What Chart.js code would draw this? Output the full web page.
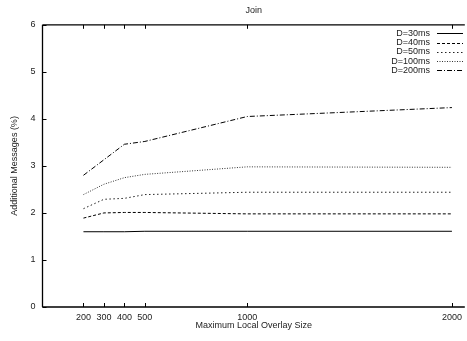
<!DOCTYPE html>
<html>
<head>
<meta charset="utf-8">
<script src="https://cdn.jsdelivr.net/npm/chart.js@4"></script>
<style>
html,body{margin:0;padding:0;background:#fff;overflow:hidden;}
canvas{display:block;}
</style>
</head>
<body>
<canvas id="c" width="467" height="341" style="width:467px;height:341px"></canvas>
<script>
const sizes = [200, 300, 400, 500, 1000, 2000];
const xTicks = [200, 300, 400, 500, 1000, 2000];
const yTicks = [0, 1, 2, 3, 4, 5, 6];
const seriesNames = ['D=30ms', 'D=40ms', 'D=50ms', 'D=100ms', 'D=200ms'];
const d30  = [1.60, 1.60, 1.60, 1.61, 1.61, 1.61];
const d40  = [1.89, 2.00, 2.01, 2.01, 1.98, 1.98];
const d50  = [2.09, 2.29, 2.31, 2.39, 2.44, 2.44];
const d100 = [2.39, 2.61, 2.75, 2.82, 2.98, 2.97];
const d200 = [2.80, 3.13, 3.46, 3.52, 4.05, 4.24];

const FONT = 'Liberation Sans, Arial, Helvetica, sans-serif';
const TXT = '#222';
const dashes = [[], [3, 2], [1.5, 2.5], [1, 1.5], [5, 2, 1, 2]];
const colors = ['#000', '#000', '#222', '#333', '#000'];
const allData = [d30, d40, d50, d100, d200];

const datasets = allData.map((vals, i) => ({
  label: seriesNames[i],
  data: sizes.map((s, j) => ({x: s, y: vals[j]})),
  borderColor: colors[i],
  borderWidth: 1,
  borderDash: dashes[i],
  pointRadius: 0,
  tension: 0,
  fill: false
}));

const framePlugin = {
  id: 'frame',
  afterDraw(chart) {
    const ctx = chart.ctx;
    const a = chart.chartArea;
    const xs = chart.scales.x, ys = chart.scales.y;
    ctx.save();
    ctx.strokeStyle = '#000';
    ctx.lineWidth = 1.3;
    ctx.beginPath();
    ctx.moveTo(a.left, a.top); ctx.lineTo(a.right, a.top);
    ctx.moveTo(a.left, a.bottom); ctx.lineTo(a.right, a.bottom);
    ctx.moveTo(a.left, a.top); ctx.lineTo(a.left, a.bottom);
    ctx.stroke();
    ctx.lineWidth = 1;
    ctx.beginPath();
    xTicks.forEach(v => {
      const px = Math.round(xs.getPixelForValue(v)) + 0.5;
      ctx.moveTo(px, a.bottom); ctx.lineTo(px, a.bottom - 4);
      ctx.moveTo(px, a.top); ctx.lineTo(px, a.top + 4);
    });
    yTicks.forEach(v => {
      const py = Math.round(ys.getPixelForValue(v)) + 0.5;
      ctx.moveTo(a.left, py); ctx.lineTo(a.left + 4, py);
    });
    ctx.stroke();
    // legend
    ctx.font = '9px ' + FONT;
    ctx.textAlign = 'right';
    ctx.textBaseline = 'middle';
    chart.data.datasets.forEach((ds, i) => {
      const y = 33.3 + i * 9.25;
      ctx.fillStyle = TXT;
      ctx.fillText(ds.label, 430, y);
      ctx.strokeStyle = ds.borderColor;
      ctx.setLineDash(ds.borderDash);
      ctx.lineWidth = 1;
      ctx.beginPath();
      ctx.moveTo(437, Math.round(y) + 0.5);
      ctx.lineTo(463, Math.round(y) + 0.5);
      ctx.stroke();
    });
    ctx.restore();
  }
};

new Chart(document.getElementById('c'), {
  type: 'line',
  data: {datasets},
  options: {
    responsive: false,
    animation: false,
    events: [],
    layout: {padding: {left: 0, right: 0, top: 0, bottom: 0}},
    plugins: {
      legend: {display: false},
      tooltip: {enabled: false},
      title: {
        display: true,
        text: 'Join',
        fullSize: false,
        color: TXT,
        font: {family: FONT, size: 9, weight: 'normal'},
        padding: {top: 5, bottom: 9}
      }
    },
    scales: {
      x: {
        type: 'linear',
        min: 0,
        max: 2063,
        afterBuildTicks(scale) { scale.ticks = xTicks.map(v => ({value: v})); },
        afterFit(scale) { scale.height = 34; },
        grid: {display: false, drawTicks: false},
        border: {display: false},
        ticks: {color: TXT, font: {family: FONT, size: 9}, padding: 5, maxRotation: 0, autoSkip: false,
                callback: v => String(v)},
        title: {display: true, text: 'Maximum Local Overlay Size', color: TXT,
                font: {family: FONT, size: 9}, padding: {top: 0, bottom: 10}}
      },
      y: {
        min: 0,
        max: 6,
        afterBuildTicks(scale) { scale.ticks = yTicks.map(v => ({value: v})); },
        afterFit(scale) { scale.width = 42.5; },
        grid: {display: false, drawTicks: false},
        border: {display: false},
        ticks: {color: TXT, font: {family: FONT, size: 9}, padding: 7, callback: v => String(v)},
        title: {display: true, text: 'Additional Messages (%)', color: TXT,
                font: {family: FONT, size: 9}, padding: {top: 9, bottom: 0}}
      }
    }
  },
  plugins: [framePlugin]
});
</script>
</body>
</html>
